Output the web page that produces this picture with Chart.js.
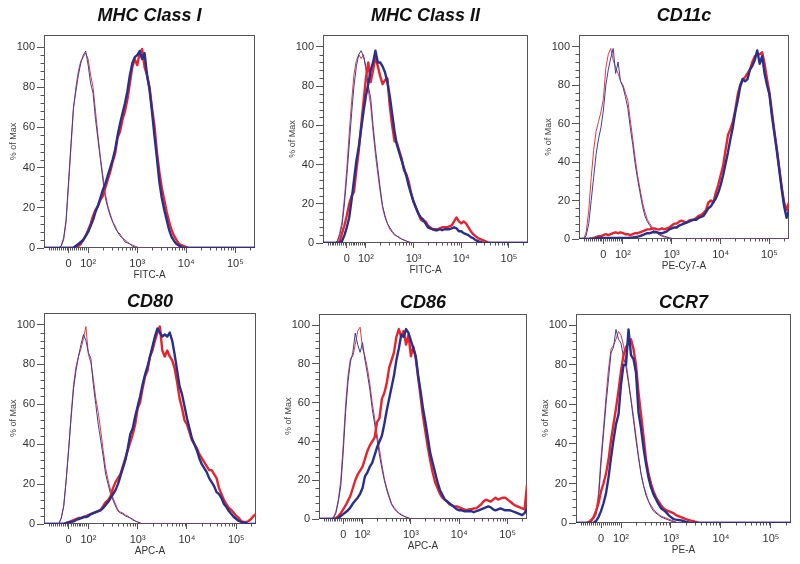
<!DOCTYPE html>
<html>
<head>
<meta charset="utf-8">
<script src="https://cdn.jsdelivr.net/npm/chart.js@4.4.1/dist/chart.umd.min.js"></script>
<style>
html, body { margin: 0; padding: 0; background: #fff; }
body { width: 800px; height: 564px; position: relative; overflow: hidden; }
canvas { position: absolute; }
</style>
</head>
<body>
<script>
// channel position on the biexponential axis (2 = 10^2, 3 = 10^3 ...)
const channel = [
    1.10,1.15,1.20,1.25,1.30,1.35,1.40,1.45,1.50,1.55,
    1.60,1.65,1.70,1.75,1.80,1.85,1.90,1.95,2.00,2.05,
    2.10,2.15,2.20,2.25,2.30,2.35,2.40,2.45,2.50,2.55,
    2.60,2.65,2.70,2.75,2.80,2.85,2.90,2.95,3.00,3.05,
    3.10,3.15,3.20,3.25,3.30,3.35,3.40,3.45,3.50,3.55,
    3.60,3.65,3.70,3.75,3.80,3.85,3.90,3.95,4.00,4.05,
    4.10,4.15,4.20,4.25,4.30,4.35,4.40,4.45,4.50,4.55,
    4.60,4.65,4.70,4.75,4.80,4.85,4.90,4.95,5.00,5.05,
    5.10,5.15,5.20,5.25,5.30,5.35,5.40
];

const xTickValues = [1.6, 2, 3, 4, 5];
const xTickLabels = ["0", "10\u00b2", "10\u00b3", "10\u2074", "10\u2075"];
const yTickValues = [0, 20, 40, 60, 80, 100];

const panelTitles = ["MHC Class I", "MHC Class II", "CD11c", "CD80", "CD86", "CCR7"];
const axisTitles = ["FITC-A", "FITC-A", "PE-Cy7-A", "APC-A", "APC-A", "PE-A"];

// ---- MHC Class I ----
const mhc1IsoRed = [
    0,0,0,0,0,0,0,1,4,13,
    31,50,69,80,88,93,95,97,94,86,
    80,68,56,45,36,27,21,17,13,11,
    8,7,5,4,3,2,1.5,1,0.5,0,
    0,0,0,0,0,0,0,0,0,0,
    0,0,0,0,0,0,0,0,0,0,
    0,0,0,0,0,0,0,0,0,0,
    0,0,0,0,0,0,0,0,0,0,
    0,0,0,0,0,0,0
];
const mhc1IsoBlue = [
    0,0,0,0,0,0,0,1,5,14,
    33,52,70,78,86,92,96,98,91,82,
    77,64,54,44,34,25,20,16,13,10,
    8,6,5,3,2.5,2,1,0.5,0,0,
    0,0,0,0,0,0,0,0,0,0,
    0,0,0,0,0,0,0,0,0,0,
    0,0,0,0,0,0,0,0,0,0,
    0,0,0,0,0,0,0,0,0,0,
    0,0,0,0,0,0,0
];
const mhc1Red = [
    0,0,0,0,0,0,0,0,0,0,
    0,0,0,1,1,2,4,6,9,12,
    16,19,21,24,26,30,34,38,43,47,
    55,58,64,68,74,82,90,94,91,97,
    99,90,86,80,70,61,48,38,30,24,
    18,13,9,6,4,2,1.5,1,0.5,0,
    0,0,0,0,0,0,0,0,0,0,
    0,0,0,0,0,0,0,0,0,0,
    0,0,0,0,0,0,0
];
const mhc1Blue = [
    0,0,0,0,0,0,0,0,0,0,
    0,0,0,1,2,3,4,6,8,11,
    14,18,21,25,29,32,36,40,44,49,
    56,62,67,72,78,86,92,95,96,98,
    94,97,86,79,68,56,45,33,25,19,
    14,9,5.5,3.5,2,1.2,0.5,0,0,0,
    0,0,0,0,0,0,0,0,0,0,
    0,0,0,0,0,0,0,0,0,0,
    0,0,0,0,0,0,0
];

// ---- MHC Class II ----
const mhc2IsoRed = [
    0,0,0,0,0,0,1,5,11,23,
    38,56,72,86,93,96,94,96,88,78,
    70,57,45,35,26,18,13,10,7,5.5,
    4,3.5,2.5,2,1.5,1,0.5,0.2,0,0,
    0,0,0,0,0,0,0,0,0,0,
    0,0,0,0,0,0,0,0,0,0,
    0,0,0,0,0,0,0,0,0,0,
    0,0,0,0,0,0,0,0,0,0,
    0,0,0,0,0,0,0
];
const mhc2IsoBlue = [
    0,0,0,0,0,0,1,4,9,20,
    34,50,66,80,90,96,98,95,90,80,
    74,60,48,38,28,19,14,10,8,6,
    4.5,3.5,3,2,1.5,1,0.5,0.2,0,0,
    0,0,0,0,0,0,0,0,0,0,
    0,0,0,0,0,0,0,0,0,0,
    0,0,0,0,0,0,0,0,0,0,
    0,0,0,0,0,0,0,0,0,0,
    0,0,0,0,0,0,0
];
const mhc2Red = [
    0,0,0,0,0,0,0,1,5,9,
    14,20,24,26,37,47,60,72,84,92,
    82,88,95,90,85,81,83,84,70,60,
    52,51,47,43,37,35,31,25,21,18,
    15,12,11,11,9,8,7,7,7,7.5,
    8,8,8,8.5,9,11,13,11,10,11,
    10,8,6,4.5,3.5,2.5,2,1.5,1,0.3,
    0,0,0,0,0,0,0,0,0,0,
    0,0,0,0,0,0,0
];
const mhc2Blue = [
    0,0,0,0,0,0,0,0,1,4,
    8,13,22,32,42,49,58,67,75,81,
    88,92,98,92,92,90,87,82,75,66,
    57,50,46,42,38,34,29,25,21,18,
    15,13,12,10,8,7.5,7,6.5,6.5,7,
    6.5,7,7,7,7.5,8,7.5,6,6,5,
    4.5,4,3,2.5,1.5,1,0.5,0.2,0,0,
    0,0,0,0,0,0,0,0,0,0,
    0,0,0,0,0,0,0
];

// ---- CD11c ----
const cd11cIsoRed = [
    0,0,0,4,15,32,46,56,61,66,
    73,89,96,99,93,89,86,82,80,76,
    72,62,52,42,33,26,19,14,10,8,
    6,4.5,3.5,2.5,2,1.5,1,0.6,0.3,0,
    0,0,0,0,0,0,0,0,0,0,
    0,0,0,0,0,0,0,0,0,0,
    0,0,0,0,0,0,0,0,0,0,
    0,0,0,0,0,0,0,0,0,0,
    0,0,0,0,0,0,0
];
const cd11cIsoBlue = [
    0,0,0,2,8,20,32,44,52,58,
    67,80,88,94,99,86,92,82,79,74,
    68,58,49,39,31,24,17,12,9,7,
    5,4,3,2,1.5,1,1,0.5,0.3,0,
    0,0,0,0,0,0,0,0,0,0,
    0,0,0,0,0,0,0,0,0,0,
    0,0,0,0,0,0,0,0,0,0,
    0,0,0,0,0,0,0,0,0,0,
    0,0,0,0,0,0,0
];
const cd11cRed = [
    0,0,0,0,0,0.3,0.5,1,1.5,1.5,
    2,2.5,2,2.5,3,3.5,3,3.5,3,2.5,
    2.5,2,2.5,3,3,3.5,4,4.5,5,5,
    5.5,5.5,5,5,5.5,5,5.5,6,7,8,
    8,9,9.5,9,8.5,9.5,10,10,11,12,
    12.5,13.5,15,19,20,19,24,28,33,38,
    46,54,57,61,67,75,80,83,84,86,
    88,92,95,96,96,97,91,83,76,66,
    56,47,37,27,19,15,19
];
const cd11cBlue = [
    0,0,0,0,0,0,0,0.3,0.5,0.5,
    0.5,0.5,0.5,0.5,0.5,0.5,0.5,0.5,0.5,0.5,
    0.5,0.7,0.8,1,1.2,1.5,2,2.5,3,3,
    3.5,3.5,3.5,3,3,3.5,4,5,5.5,6,
    6,7,7.5,8,8.5,9,9.5,10,10,11,
    11.5,12,14,16,17,19,21,24,28,33,
    39,45,52,58,66,72,79,83,82,83,
    88,90,93,98,91,95,86,80,75,64,
    55,46,36,26,17,11,15
];

// ---- CD80 ----
const cd80IsoRed = [
    0,0,0,0,0,0,0,3,9,22,
    38,55,70,79,84,88,93,99,85,81,
    73,63,56,47,37,28,22,17,13,10,
    7,6,5.5,4.5,4,3,2.5,1.5,1,0.5,
    0,0,0,0,0,0,0,0,0,0,
    0,0,0,0,0,0,0,0,0,0,
    0,0,0,0,0,0,0,0,0,0,
    0,0,0,0,0,0,0,0,0,0,
    0,0,0,0,0,0,0
];
const cd80IsoBlue = [
    0,0,0,0,0,0,0,3,9,22,
    37,53,68,77,84,90,95,92,86,83,
    70,60,50,42,34,25,20,15,12,9,
    6.5,5.5,5,4,3.5,3,2,1.5,1,0.5,
    0,0,0,0,0,0,0,0,0,0,
    0,0,0,0,0,0,0,0,0,0,
    0,0,0,0,0,0,0,0,0,0,
    0,0,0,0,0,0,0,0,0,0,
    0,0,0,0,0,0,0
];
const cd80Red = [
    0,0,0,0,0,0,0,0,0,0.5,
    1,1.5,2,2.5,3,3,3.5,4,4.5,5,
    5.5,6,6.5,7,9,11,12,14,18,21,
    23,25,29,33,37,41,45,50,58,61,
    68,74,77,84,87,92,96,99,87,84,
    87,84,82,78,71,63,58,52,50,46,
    42,40,38,35,33,31,29,27,27,25,
    23,18,15,12,10,8,7,5.5,4,3,
    1.5,1,1,1.5,2.5,4,5
];
const cd80Blue = [
    0,0,0,0,0,0,0,0,0,0.5,
    0.8,1,1.3,2,2.5,3,3.5,3.5,4,5,
    5.5,6,6.5,7,8,9.5,11,13,15,17,
    20,24,28,32,38,45,48,54,59,64,
    70,75,79,84,89,94,98,96,94,95,
    94,96,92,85,77,69,65,59,53,48,
    43,40,37,33,30,28,26,23,21,19,
    16,15,13,10,8.5,6.5,5,3.5,2.5,1.5,
    1,0.8,0.5,0,0,0,0
];

// ---- CD86 ----
const cd86IsoRed = [
    0,0,0,0,0,0,1,4,10,20,
    38,59,74,83,84,90,97,99,88,84,
    78,70,60,52,44,36,28,21,16,12,
    8,6,4.5,3,2.5,1.5,1,0.5,0.2,0,
    0,0,0,0,0,0,0,0,0,0,
    0,0,0,0,0,0,0,0,0,0,
    0,0,0,0,0,0,0,0,0,0,
    0,0,0,0,0,0,0,0,0,0,
    0,0,0,0,0,0,0
];
const cd86IsoBlue = [
    0,0,0,0,0,0,0.5,3,9,17,
    34,55,71,81,86,96,90,86,91,82,
    75,67,57,49,41,33,26,20,15,11,
    7.5,5.5,4,3,2,1.5,1,0.5,0.2,0,
    0,0,0,0,0,0,0,0,0,0,
    0,0,0,0,0,0,0,0,0,0,
    0,0,0,0,0,0,0,0,0,0,
    0,0,0,0,0,0,0,0,0,0,
    0,0,0,0,0,0,0
];
const cd86Red = [
    0,0,0,0,0,0,0,0.5,1.5,3,
    5,7,9.5,12,16,20,23,25,27,31,
    35,38,40,42,50,52,62,65,70,78,
    82,86,94,98,94,97,90,95,84,89,
    83,73,63,53,45,37,30,24,19,16,
    13,11,10,9,7.5,7,6.5,6.5,6,5.5,
    5,4.5,5,5,5.5,5.5,6.5,7.5,9,10,
    9.5,9,10,11,10,10.5,11,11,10,9,
    8,7,6.5,6,5.5,5,17.5
];
const cd86Blue = [
    0,0,0,0,0,0,0,0,0.5,1.5,
    2.5,3.5,4.5,6,8,9.5,11,13,16,22,
    24,27,29,33,37,40,43,49,56,62,
    68,74,82,88,95,94,98,96,92,88,
    84,74,66,57,50,42,34,29,24,19,
    15,12.5,10,9,8,7,6,5,4.5,4.5,
    4,4,4,4,3.5,4,4.5,5,5.5,6,
    6.5,6,5,4.5,5,5.5,5,4.5,4.5,4.5,
    4,3.5,3,2.5,2,3,5.5
];

// ---- CCR7 ----
const ccr7IsoRed = [
    0,0,0,0,0,1,2,3,6,15,
    33,48,64,78,88,90,93,97,95,90,
    82,72,63,54,44,34,25,19,15,11,
    9,7,5.5,4.5,3.5,3,2.5,2,1.5,1,
    0.5,0,0,0,0,0,0,0,0,0,
    0,0,0,0,0,0,0,0,0,0,
    0,0,0,0,0,0,0,0,0,0,
    0,0,0,0,0,0,0,0,0,0,
    0,0,0,0,0,0,0
];
const ccr7IsoBlue = [
    0,0,0,0,0,0.5,1,2,4,12,
    30,45,60,73,86,89,98,93,91,84,
    79,71,62,52,42,33,25,19,14,11,
    8,6,5,4,3,2.5,2,1.5,1,0.7,
    0.3,0,0,0,0,0,0,0,0,0,
    0,0,0,0,0,0,0,0,0,0,
    0,0,0,0,0,0,0,0,0,0,
    0,0,0,0,0,0,0,0,0,0,
    0,0,0,0,0,0,0
];
const ccr7Red = [
    0,0,0,0,0,0,1,3,6,10,
    16,20,25,32,42,50,58,67,77,85,
    89,91,93,88,80,66,55,44,32,25,
    20,16,13,11,9,7.5,6.5,6,5.5,5,
    4,3.5,3,2.5,2,1.5,1.2,1,0.5,0.2,
    0,0,0,0,0,0,0,0,0,0,
    0,0,0,0,0,0,0,0,0,0,
    0,0,0,0,0,0,0,0,0,0,
    0,0,0,0,0,0,0
];
const ccr7Blue = [
    0,0,0,0,0,0,0,0,1,3,
    6,10,15,23,33,42,50,55,70,80,
    80,98,85,83,76,56,48,38,30,23,
    18,14.5,12,9.5,7.5,6.5,5.5,4,3,2,
    1.7,1.5,1.3,1,0.6,0.3,0,0,0,0,
    0,0,0,0,0,0,0,0,0,0,
    0,0,0,0,0,0,0,0,0,0,
    0,0,0,0,0,0,0,0,0,0,
    0,0,0,0,0,0,0
];

// stained (thick) and isotype (thin) curves per panel
const panelSeries = [
    [mhc1Blue, mhc1Red, mhc1IsoBlue, mhc1IsoRed],
    [mhc2Blue, mhc2Red, mhc2IsoBlue, mhc2IsoRed],
    [cd11cBlue, cd11cRed, cd11cIsoBlue, cd11cIsoRed],
    [cd80Blue, cd80Red, cd80IsoBlue, cd80IsoRed],
    [cd86Blue, cd86Red, cd86IsoBlue, cd86IsoRed],
    [ccr7Blue, ccr7Red, ccr7IsoBlue, ccr7IsoRed]
];

const FONT = '"Liberation Sans", Arial, Helvetica, sans-serif';
const ZERO_POS = 1.6;
const Y_AXIS_W = 44;
const X_AXIS_H = 34;

// plot frame of each panel on the page: left, right, top, bottom
const frames = [
    { L: 44,  R: 255, T: 35,  B: 248 },
    { L: 323, R: 528, T: 35,  B: 243 },
    { L: 579, R: 789, T: 35,  B: 239 },
    { L: 44,  R: 256, T: 313, B: 524 },
    { L: 319, R: 527, T: 314, B: 519 },
    { L: 576, R: 791, T: 314, B: 523 }
];

const lineStyles = [
    { color: "#27308c", width: 2.4 },
    { color: "#e8232b", width: 2.4 },
    { color: "#3b3f9c", width: 1 },
    { color: "#e9373d", width: 1 }
];

// minor ticks of the biexponential axis
function minorXTicks() {
    const out = [];
    for (let v = -100; v < 100; v += 10) {
        if (v !== 0) out.push(ZERO_POS + 0.4 * v / 100);
    }
    for (let n = 2; n <= 5; n++) {
        for (let k = 2; k <= 9; k++) {
            const p = n + Math.log10(k);
            if (p < 5.4) out.push(p);
        }
    }
    return out;
}

const framePlugin = {
    id: "frame",
    beforeDatasetsDraw(chart) {
        const { ctx, chartArea: a, scales } = chart;
        ctx.save();
        ctx.strokeStyle = "#555";
        ctx.lineWidth = 1;
        const l = Math.round(a.left) + 0.5, t = Math.round(a.top) + 0.5;
        const r = Math.round(a.right) - 0.5, b = Math.round(a.bottom) - 0.5;
        ctx.strokeRect(l, t, r - l, b - t);
        ctx.beginPath();
        minorXTicks().forEach(p => {
            const px = Math.round(scales.x.getPixelForValue(p)) + 0.5;
            ctx.moveTo(px, b);
            ctx.lineTo(px, b + 3);
        });
        for (let v = 4; v < 100; v += 4) {
            if (v % 20 === 0) continue;
            const py = Math.round(scales.y.getPixelForValue(v)) + 0.5;
            ctx.moveTo(l - 4, py);
            ctx.lineTo(l, py);
        }
        ctx.stroke();
        ctx.restore();
    }
};

frames.forEach((f, i) => {
    const row2 = i >= 3;
    const titlePad = row2 ? { top: 12, bottom: 0 } : { top: 4, bottom: 8.4 };
    const titleH = 18 * 1.2 + titlePad.top + titlePad.bottom;
    const left = f.L - Y_AXIS_W;
    const top = Math.round(f.T - titleH);
    const w = (f.R - f.L) + Y_AXIS_W + 8;
    const h = Math.round(f.B + X_AXIS_H - top);

    const canvas = document.createElement("canvas");
    canvas.width = w;
    canvas.height = h;
    canvas.style.left = left + "px";
    canvas.style.top = top + "px";
    canvas.style.width = w + "px";
    canvas.style.height = h + "px";
    document.body.appendChild(canvas);

    const datasets = panelSeries[i].map((arr, k) => ({
        data: channel.map((x, j) => ({ x: x, y: arr[j] })),
        borderColor: lineStyles[k].color,
        borderWidth: lineStyles[k].width,
        pointRadius: 0,
        tension: 0,
        borderJoinStyle: "round",
        fill: false
    }));

    new Chart(canvas, {
        type: "line",
        data: { datasets: datasets },
        options: {
            responsive: false,
            animation: false,
            devicePixelRatio: 1,
            layout: { padding: { left: 0, right: 8, top: 0, bottom: 0 } },
            plugins: {
                legend: { display: false },
                tooltip: { enabled: false },
                title: {
                    display: true,
                    text: panelTitles[i],
                    fullSize: false,
                    color: "#111",
                    font: { family: FONT, size: 18, weight: "bold", style: "italic", lineHeight: 1.2 },
                    padding: titlePad
                }
            },
            scales: {
                x: {
                    type: "linear",
                    min: 1.1,
                    max: 5.4,
                    afterBuildTicks: s => { s.ticks = xTickValues.map(v => ({ value: v })); },
                    afterFit: s => { s.height = X_AXIS_H; },
                    ticks: {
                        autoSkip: false,
                        maxRotation: 0,
                        padding: 4,
                        color: "#333",
                        font: { family: FONT, size: 11 },
                        callback: (v, idx) => xTickLabels[idx]
                    },
                    grid: { drawOnChartArea: false, tickLength: 5, color: "#555" },
                    border: { display: false },
                    title: {
                        display: true,
                        text: axisTitles[i],
                        color: "#333",
                        font: { family: FONT, size: 10, lineHeight: 1.2 },
                        padding: { top: 1, bottom: 1 }
                    }
                },
                y: {
                    min: 0,
                    max: 106,
                    afterBuildTicks: s => { s.ticks = yTickValues.map(v => ({ value: v })); },
                    afterFit: s => { s.width = Y_AXIS_W; },
                    ticks: {
                        padding: 2,
                        color: "#333",
                        font: { family: FONT, size: 11 }
                    },
                    grid: { drawOnChartArea: false, tickLength: 7, color: "#555" },
                    border: { display: false },
                    title: {
                        display: true,
                        text: "% of Max",
                        color: "#444",
                        font: { family: FONT, size: 9, lineHeight: 1.2 },
                        padding: { top: 8.5, bottom: 0 }
                    }
                }
            }
        },
        plugins: [framePlugin]
    });
});
</script>
</body>
</html>
